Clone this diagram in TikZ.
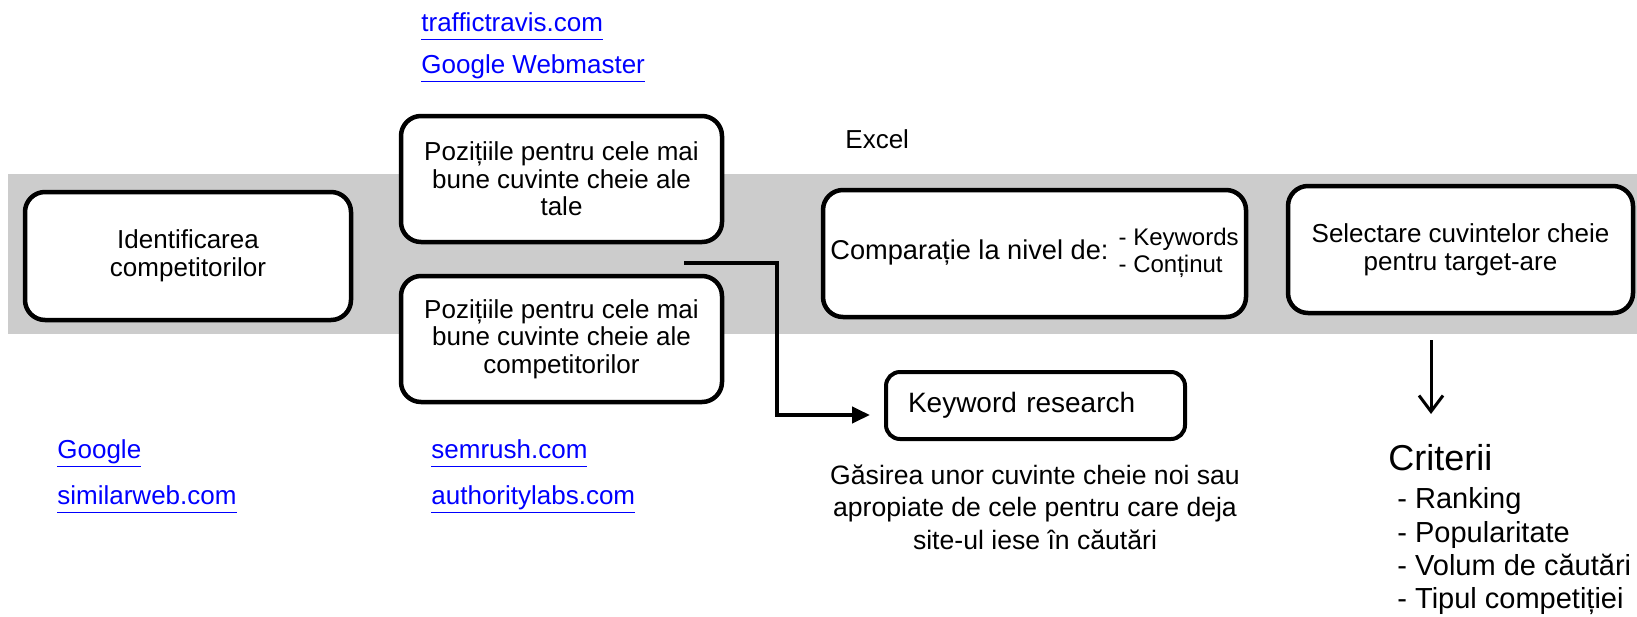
\documentclass[tikz,border=0pt]{standalone}
\usepackage{fontspec}
\setmainfont{Liberation Sans}
\usetikzlibrary{arrows.meta,calc}
\definecolor{band}{RGB}{204,204,204}
\definecolor{lnkblue}{RGB}{0,0,255}
\newcommand\lnk[1]{\underline{#1\vphantom{g}}}
\begin{document}
\begin{tikzpicture}[x=0.5pt,y=-0.5pt,
  box/.style={draw=black,line width=2.25pt,rounded corners=10pt,fill=white,align=center,
    font=\fontsize{13}{13.8}\selectfont,inner sep=0pt},
  link/.style={text=lnkblue,font=\fontsize{13}{15}\selectfont,anchor=base west,inner sep=0pt},
  plain/.style={font=\fontsize{13}{14}\selectfont,inner sep=0pt},
  crititem/.style={font=\fontsize{14.5}{16}\selectfont,anchor=base west,inner sep=0pt},
  conn/.style={line width=2pt,-{Triangle[length=9pt,width=8pt]}},
]
\useasboundingbox (0,0) rectangle (1637,616);
\fill[band] (8,174) rectangle (1637,334);

% boxes
\node[box,minimum width=163pt,minimum height=64pt] (b1) at (188,256)
  {Identificarea\\competitorilor};
\node[box,minimum width=160.5pt,minimum height=63pt] (b2) at (561.5,179)
  {Pozițiile pentru cele mai\\bune cuvinte cheie ale\\tale};
\node[box,minimum width=160.5pt,minimum height=63pt] (b3) at (561.5,339)
  {Pozițiile pentru cele mai\\bune cuvinte cheie ale\\competitorilor};
\node[box,minimum width=211.5pt,minimum height=63.5pt,font=\fontsize{13.6}{14}\selectfont] (b4) at (1034.5,253.5)
  {Comparație la nivel de: {\fontsize{12}{13.5}\selectfont\begin{tabular}[c]{@{}l@{}}- Keywords\\- Conținut\end{tabular}}};
\node[box,minimum width=172.5pt,minimum height=63.5pt] (b5) at (1460.5,249.5)
  {Selectare cuvintelor cheie\\pentru target-are};
\node[box,line width=2pt,rounded corners=7pt,minimum height=33.5pt,
  font=\fontsize{14}{15}\selectfont,
  text width=127.5pt,inner xsep=11pt,align=left] (kw) at (1035.5,405.5) {Keyword research};

% texts
\node[plain,anchor=base west] (excel) at (845,148) {Excel};
\node[plain,align=center,font=\fontsize{13.3}{16.2}\selectfont] (desc) at (1035,507)
  {Găsirea unor cuvinte cheie noi sau\\apropiate de cele pentru care deja\\site-ul iese în căutări};

% links
\node[link] (tt) at (421,31) {\lnk{traffictravis.com}};
\node[link] (gw) at (421,73) {\lnk{Google Webmaster}};
\node[link] (gg) at (57,458) {\lnk{Google}};
\node[link] (sw) at (57,504) {\lnk{similarweb.com}};
\node[link] (sr) at (431,458) {\lnk{semrush.com}};
\node[link] (al) at (431,504) {\lnk{authoritylabs.com}};

% criteria
\node[font=\fontsize{18}{20}\selectfont,anchor=base west,inner sep=0pt] (crit) at (1388,470) {Criterii};
\node[crititem] (c1) at (1397,508) {- Ranking};
\node[crititem] (c2) at (1397,542) {- Popularitate};
\node[crititem] (c3) at (1397,575) {- Volum de căutări};
\node[crititem] (c4) at (1397,608) {- Tipul competiției};

% connectors
\coordinate (k0) at (684,263);
\coordinate (k1) at (777,263);
\coordinate (k2) at (870,415);
\draw[conn] (k0) -- (k1) |- (k2);
\coordinate (a1) at (1431,340);
\coordinate (a2) at (1431,414);
\draw[line width=1.5pt,-{Straight Barb[length=8pt,width=12pt]}] (a1) -- (a2);
\end{tikzpicture}
\end{document}
